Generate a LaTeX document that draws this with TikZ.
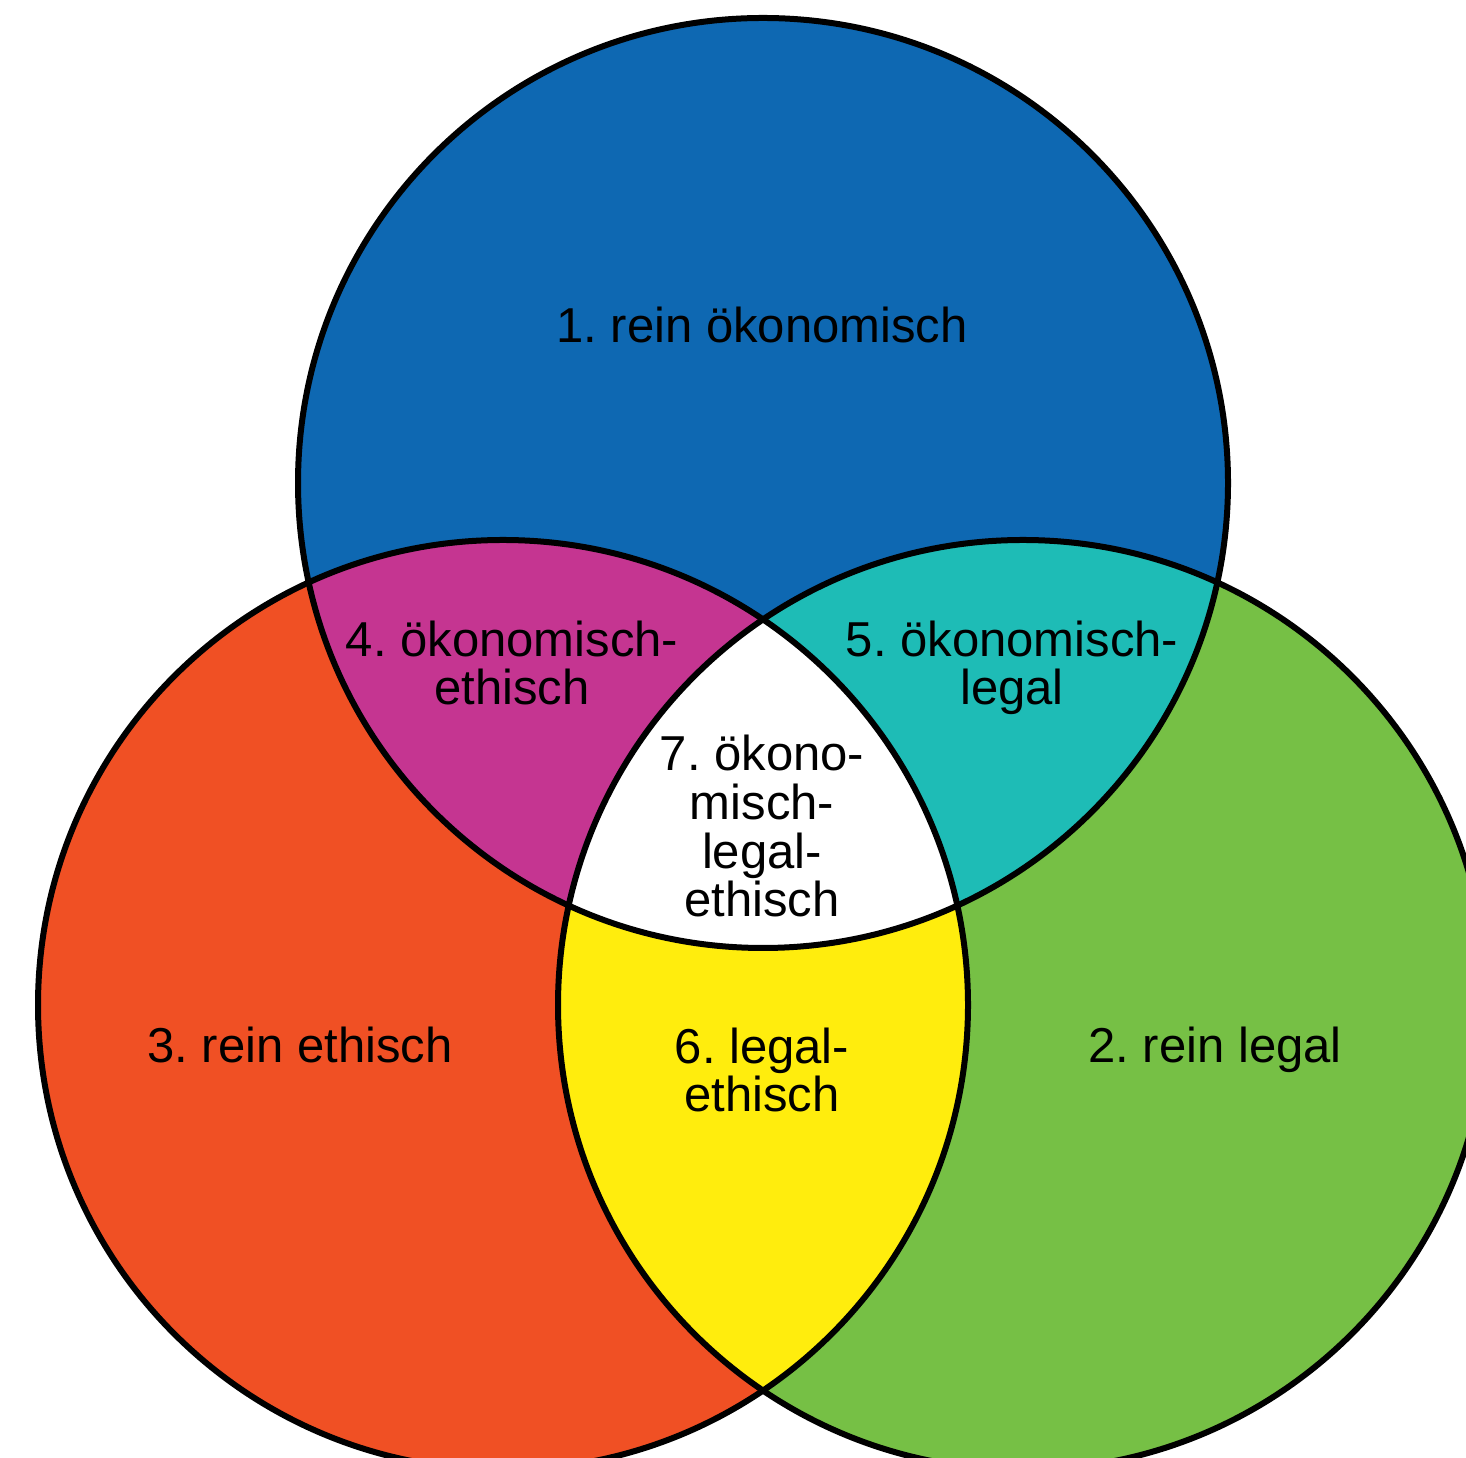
\documentclass[tikz,border=0pt]{standalone}
\usepackage{fontspec}
\setmainfont{Liberation Sans}
\frenchspacing
\definecolor{oekoblue}{RGB}{14,104,178}
\definecolor{ethikred}{RGB}{240,80,36}
\definecolor{legalgreen}{RGB}{118,192,69}
\definecolor{oekoethik}{RGB}{197,53,145}
\definecolor{oekolegal}{RGB}{30,188,182}
\definecolor{legalethik}{RGB}{255,237,13}
\tikzset{
  ring/.style={draw=black, line width=0.12cm},
  lbl/.style={font=\fontsize{27.9}{27.8}\selectfont, align=center, inner sep=0pt, anchor=base}
}

\begin{document}
\begin{tikzpicture}[x=0.2mm,y=0.2mm]
      \useasboundingbox (0,0) rectangle (1466,1457);
      \clip (0,0) rectangle (1466,1457);
      \def\rad{465}

      %CIRCLE CENTRES
      \coordinate (oeko) at (763,974);
      \coordinate (ethik) at (503,452);
      \coordinate (legal) at (1023,452);

      %PURE AREAS
      \fill[oekoblue] (oeko) circle[radius=\rad];
      \fill[ethikred] (ethik) circle[radius=\rad];
      \fill[legalgreen] (legal) circle[radius=\rad];

      %PAIRWISE OVERLAPS
      \begin{scope}
        \clip (oeko) circle[radius=\rad];
        \fill[oekoethik] (ethik) circle[radius=\rad];
        \fill[oekolegal] (legal) circle[radius=\rad];
      \end{scope}
      \begin{scope}
        \clip (ethik) circle[radius=\rad];
        \fill[legalethik] (legal) circle[radius=\rad];
      \end{scope}

      %CENTRE
      \begin{scope}
        \clip (oeko) circle[radius=\rad];
        \clip (ethik) circle[radius=\rad];
        \fill[white] (legal) circle[radius=\rad];
      \end{scope}

      %OUTLINES
      \draw[ring] (oeko) circle[radius=\rad];
      \draw[ring] (ethik) circle[radius=\rad];
      \draw[ring] (legal) circle[radius=\rad];

      %LABELS
      \node[lbl] (reinoeko) at (762,1114) {1. rein ökonomisch};
      \node[lbl] (reinlegal) at (1215,394) {2. rein legal};
      \node[lbl] (reinethik) at (300,394) {3. rein ethisch};
      \node[lbl] (oekoeth) at (512,752) {4. ökonomisch-\\ethisch};
      \node[lbl] (oekoleg) at (1012,752) {5. ökonomisch-\\legal};
      \node[lbl] (legeth) at (762,345) {6. legal-\\ethisch};
      \node[lbl] (alle) at (762,540) {7. ökono-\\misch-\\legal-\\ethisch};
\end{tikzpicture}
\end{document}
